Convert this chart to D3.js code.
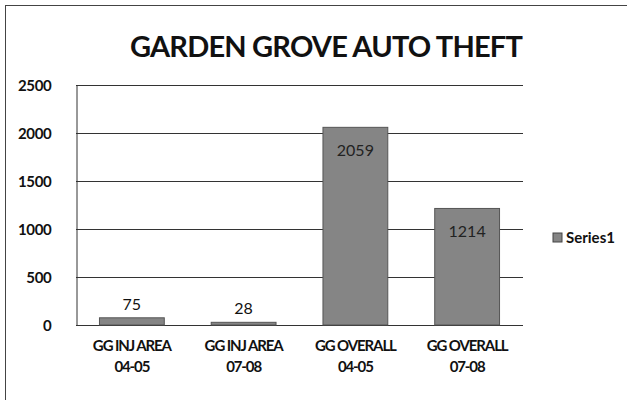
<!DOCTYPE html>
<html>
<head>
<script src="https://d3js.org/d3.v7.min.js"></script>
<style>
  body { margin: 0; background: #fff; }
  text { font-family: Lato, "Open Sans", sans-serif; fill: #111; }
</style>
</head>
<body>
<div id="chart"></div>
<script>
// chart values
const categories = [["GG INJ AREA", "04-05"], ["GG INJ AREA", "07-08"], ["GG OVERALL", "04-05"], ["GG OVERALL", "07-08"]];
const values = [75, 28, 2059, 1214];
const yTicks = [0, 500, 1000, 1500, 2000, 2500];
const seriesName = "Series1";

const w = 627, h = 406;
const plotLeft = 76, plotRight = 523, plotTop = 85, plotBottom = 325;

const svg = d3.select("#chart").append("svg")
    .attr("width", w)
    .attr("height", h);

// outer frame (only top and left show in the scan)
svg.append("line").attr("x1", 5).attr("x2", 627).attr("y1", 5.5).attr("y2", 5.5)
   .attr("stroke", "#444").attr("stroke-width", 1);
svg.append("line").attr("x1", 5.5).attr("x2", 5.5).attr("y1", 5).attr("y2", 400)
   .attr("stroke", "#444").attr("stroke-width", 1);

const x = d3.scaleBand()
    .domain(d3.range(categories.length))
    .range([plotLeft, plotRight])
    .paddingInner(0.42)
    .paddingOuter(0.21);

const y = d3.scaleLinear()
    .domain([0, 2500])
    .range([plotBottom, plotTop]);

// gridlines
svg.append("g")
   .selectAll("line")
   .data(yTicks)
   .join("line")
   .attr("x1", plotLeft).attr("x2", plotRight)
   .attr("y1", d => Math.round(y(d)) + 0.5)
   .attr("y2", d => Math.round(y(d)) + 0.5)
   .attr("stroke", "#333")
   .attr("stroke-width", 1);

// y axis
const yAxis = d3.axisLeft(y).tickValues(yTicks).tickFormat(d3.format("d")).tickSize(0).tickPadding(25);
const gy = svg.append("g")
   .attr("transform", "translate(" + (plotLeft + 0.5) + ",0)")
   .call(yAxis);
gy.select(".domain").attr("stroke", "#333");
gy.selectAll("text")
   .style("font-size", "15px")
   .style("font-weight", "bold")
   .style("letter-spacing", "-0.3px")
   .attr("dy", "0.35em");

// bars
svg.append("g")
   .selectAll("rect")
   .data(values)
   .join("rect")
   .attr("x", (d, i) => x(i))
   .attr("y", d => y(d))
   .attr("width", x.bandwidth())
   .attr("height", d => y(0) - y(d))
   .attr("fill", "#858585")
   .attr("stroke", "#555")
   .attr("stroke-width", 1);

// data labels
svg.append("g")
   .selectAll("text")
   .data(values)
   .join("text")
   .attr("x", (d, i) => x(i) + x.bandwidth() / 2)
   .attr("y", d => d > 500 ? y(d) + 29 : y(d) - 8)
   .attr("text-anchor", "middle")
   .style("font-size", "16px")
   .style("fill", d => d > 500 ? "#222" : "#111")
   .text(d => d);

// x category labels
const xl = svg.append("g")
   .selectAll("text")
   .data(categories)
   .join("text")
   .attr("x", (d, i) => x(i) + x.bandwidth() / 2)
   .attr("y", 351)
   .attr("text-anchor", "middle")
   .style("font-size", "15px")
   .style("font-weight", "bold")
   .style("letter-spacing", "-1.1px");
xl.append("tspan").text(d => d[0]);
xl.append("tspan")
   .attr("x", (d, i) => x(i) + x.bandwidth() / 2)
   .attr("dy", 21)
   .text(d => d[1]);

// title
svg.append("text")
   .attr("x", 326)
   .attr("y", 57)
   .attr("text-anchor", "middle")
   .style("font-size", "29px")
   .style("font-weight", "bold")
   .style("letter-spacing", "-0.8px")
   .text("GARDEN GROVE AUTO THEFT");

// legend
svg.append("rect")
   .attr("x", 553).attr("y", 233)
   .attr("width", 9).attr("height", 9)
   .attr("fill", "#858585").attr("stroke", "#444");
svg.append("text")
   .attr("x", 566).attr("y", 243)
   .style("font-size", "15px")
   .style("font-weight", "bold")
   .text(seriesName);
</script>
</body>
</html>
